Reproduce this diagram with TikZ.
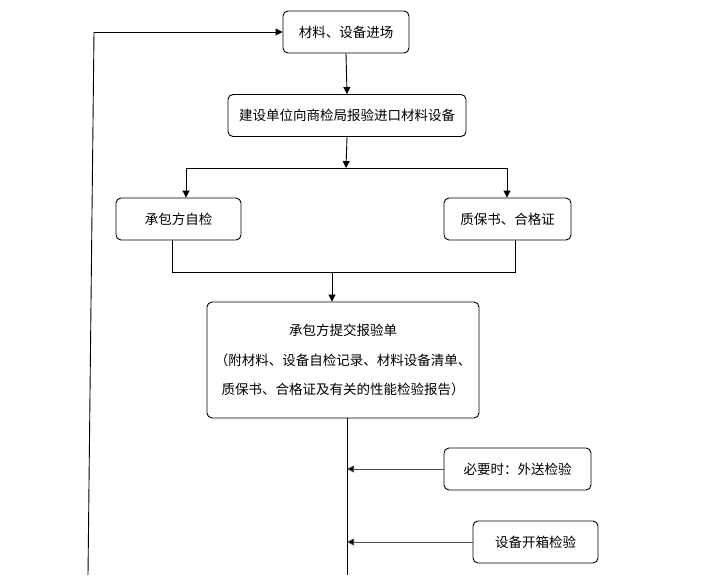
\documentclass[tikz,border=0pt]{standalone}
\usepackage{fontspec}
\setmainfont{Noto Sans CJK SC}
\usetikzlibrary{arrows.meta,calc}
\tikzset{
  box/.style={draw, rounded corners=5pt, line width=0.9pt, align=center, inner sep=0pt,
    font=\fontsize{13.5}{29.5}\selectfont},
  conn/.style={line width=0.9pt},
  arr/.style={line width=0.9pt, -{Triangle[length=7pt,width=7pt]}},
  sidearr/.style={line width=0.9pt, draw=black!70, -{Triangle[length=7pt,width=7pt,fill=black]}}
}
\begin{document}
\begin{tikzpicture}[x=1pt,y=-1pt]
\useasboundingbox (0,0) rectangle (706,575);
\node[box, minimum width=126pt, minimum height=42pt] (b1) at (346,32) {材料、设备进场};
\node[box, minimum width=238pt, minimum height=42pt] (b2) at (347,115.5) {建设单位向商检局报验进口材料设备};
\node[box, minimum width=125pt, minimum height=42pt] (bl) at (178.5,219) {承包方自检};
\node[box, minimum width=127pt, minimum height=42pt] (br) at (507.5,219) {质保书、合格证};
\node[box, minimum width=272pt, minimum height=116pt] (b3) at (343,360) {承包方提交报验单\\（附材料、设备自检记录、材料设备清单、\\质保书、合格证及有关的性能检验报告）};
\node[box, minimum width=147pt, minimum height=42pt] (bo) at (517.5,469) {必要时：外送检验};
\node[box, minimum width=125pt, minimum height=42pt] (bk) at (535.5,542) {设备开箱检验};

\coordinate (split) at (346,168);
\coordinate (sl) at (186,168);
\coordinate (sr) at (507,168);
\coordinate (jl) at (172,272);
\coordinate (jr) at (515,272);
\coordinate (jm) at (332,272);
\coordinate (mtop) at (347,418);
\coordinate (mbot) at (347,575);
\coordinate (fbot) at (88,575);
\coordinate (ftop) at (94,32);

\draw[arr] (b1.south) -- (b2.north);
\draw[arr] (b2.south) -- (split);
\draw[conn] (sl) -- (sr);
\draw[arr] (sl) -- (sl |- bl.north);
\draw[arr] (sr) -- (sr |- br.north);
\draw[conn] (jl |- bl.south) -- (jl) -- (jr) -- (jr |- br.south);
\draw[arr] (jm) -- (jm |- b3.north);
\draw[conn] (mtop) -- (mbot);
\draw[sidearr] (bo.west) -- (bo.west -| mtop);
\draw[sidearr] (bk.west) -- (bk.west -| mtop);
\draw[conn] (fbot) -- (ftop);
\draw[arr] (ftop) -- (b1.west);
\end{tikzpicture}
\end{document}
